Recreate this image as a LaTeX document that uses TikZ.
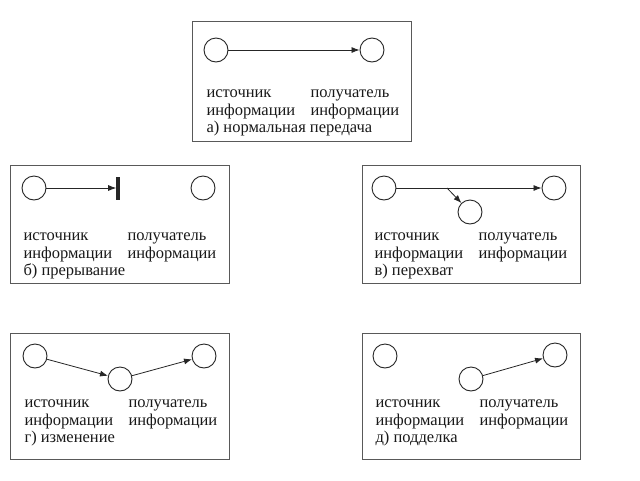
\documentclass[tikz,border=0pt]{standalone}
\usepackage{fontspec}
\setmainfont{Liberation Serif}
\usetikzlibrary{arrows.meta}
\begin{document}
\begin{tikzpicture}[x=1pt,y=-1pt,>={Latex[length=8pt,width=6pt]},
  every node/.style={font=\fontsize{16.5}{18}\selectfont,text=black!90},
  party/.style={circle,draw=black!85,line width=0.9pt,minimum size=24pt,inner sep=0pt},
  frame/.style={draw=black!65,line width=1pt},
  flow/.style={->,black!85,line width=0.8pt}]
\useasboundingbox[fill=white] (0,0) rectangle (640,480);
% подписи под кружками
\foreach \p/\x/\y/\txt in {a/203/97/{а) нормальная передача},b/20/240/{б) прерывание},
    v/371/240/{в) перехват},g/21/407/{г) изменение},d/372/407/{д) подделка}}{
  \node[anchor=base west] (srctop\p) at (\x,\y) {источник};
  \node[anchor=base west] (srcbot\p) at (\x,\y+18) {информации};
  \node[anchor=base west] (dsttop\p) at (\x+104,\y) {получатель};
  \node[anchor=base west] (dstbot\p) at (\x+104,\y+18) {информации};
  \node[anchor=base west] (caption\p) at (\x,\y+35) {\txt};
}
% а) нормальная передача
\draw[frame] (192,21) rectangle (411,141);
\node[party] (sa) at (216,50) {};
\node[party] (ra) at (372,50) {};
\draw[flow] (sa) -- (ra);
% б) прерывание
\draw[frame] (10,165) rectangle (229,283);
\node[party] (sb) at (34,188) {};
\node[party] (rb) at (203,188) {};
\node[fill=black!85,minimum width=3.2pt,minimum height=23pt,inner sep=0pt] (cut) at (118,188) {};
\draw[flow] (sb) -- (cut.west);
% в) перехват
\draw[frame] (362,165) rectangle (580,283);
\node[party] (sv) at (384,188) {};
\node[party] (rv) at (554,188) {};
\node[party] (spy) at (470,212) {};
\coordinate (tap) at (447,188);
\draw[flow] (sv) -- (rv);
\draw[flow] (tap) -- (spy);
% г) изменение
\draw[frame] (10,333) rectangle (229,459);
\node[party] (sg) at (35,356) {};
\node[party] (mg) at (120,379) {};
\node[party] (rg) at (204,356) {};
\draw[flow] (sg) -- (mg);
\draw[flow] (mg) -- (rg);
% д) подделка
\draw[frame] (362,333) rectangle (580,459);
\node[party] (sd) at (385,356) {};
\node[party] (fake) at (471,379) {};
\node[party] (rd) at (555,355) {};
\draw[flow] (fake) -- (rd);
\end{tikzpicture}
\end{document}
